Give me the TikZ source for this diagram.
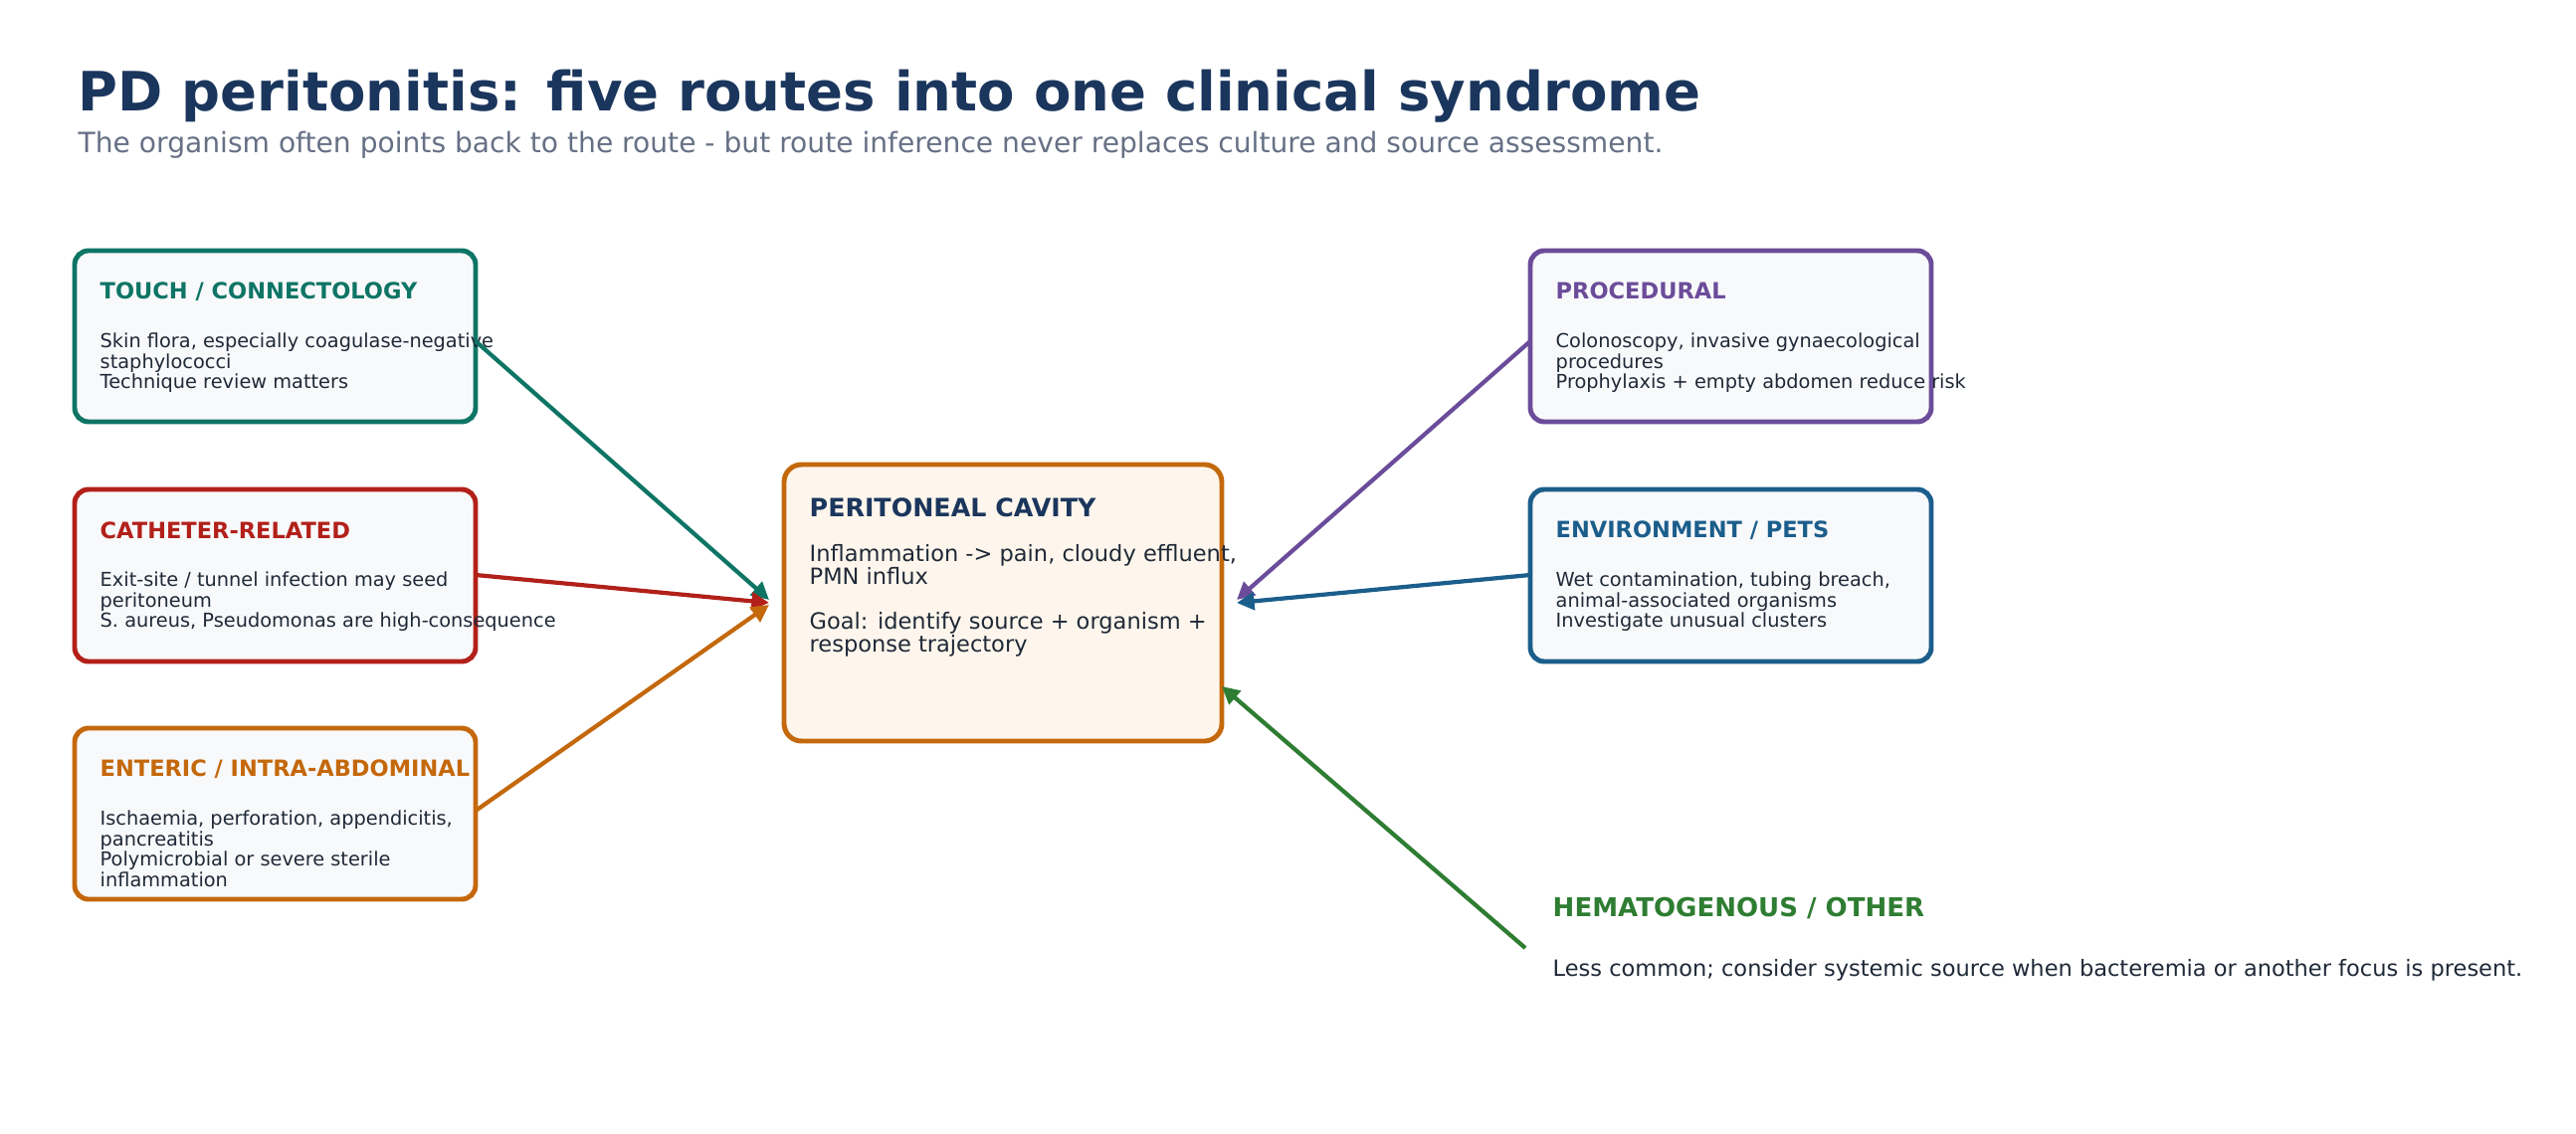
\documentclass[tikz,border=0pt]{standalone}
\usepackage{fontspec}
\setmainfont{DejaVu Sans}
\usetikzlibrary{arrows.meta}
\definecolor{navy}{HTML}{1B365D}
\definecolor{sub}{HTML}{667085}
\definecolor{ink}{HTML}{1F2937}
\definecolor{cteal}{HTML}{0E7565}
\definecolor{cred}{HTML}{B2201A}
\definecolor{corange}{HTML}{C4680C}
\definecolor{cpurple}{HTML}{6B4C9A}
\definecolor{cblue}{HTML}{1B5E8C}
\definecolor{cgreen}{HTML}{2E7D32}
\definecolor{boxfill}{HTML}{F8F9FB}
\definecolor{cfill}{HTML}{FEF6EC}
\begin{document}
\begin{tikzpicture}[x=0.01cm,y=-0.01cm,
  box/.style={draw=#1,line width=1.4pt,rounded corners=4pt,fill=boxfill},
  btitle/.style={anchor=west,text=#1,font=\fontsize{6.4}{7.5}\selectfont\bfseries,inner sep=0},
  bbody/.style={anchor=north west,text=ink,font=\fontsize{5.5}{5.9}\selectfont,align=left,inner sep=0},
  arr/.style={draw=#1,line width=1.2pt,-{Triangle[length=5pt,width=5pt]}}]
\useasboundingbox (0,0) rectangle (2589,1140);
\node[anchor=west,text=navy,font=\fontsize{15.5}{18}\selectfont\bfseries,inner sep=0] (title) at (78,97) {PD peritonitis: five routes into one clinical syndrome};
\node[anchor=west,text=sub,font=\fontsize{8}{9}\selectfont,inner sep=0] (subt) at (78,146) {The organism often points back to the route - but route inference never replaces culture and source assessment.};
% left boxes
\draw[box=cteal] (75,252) rectangle (478,424);
\node[btitle=cteal] (t1) at (100,293) {TOUCH / CONNECTOLOGY};
\node[bbody] (b1) at (100,334) {Skin flora, especially coagulase-negative\\staphylococci\\Technique review matters};
\coordinate (o1) at (478,343);
\draw[box=cred] (75,492) rectangle (478,665);
\node[btitle=cred] (t2) at (100,533) {CATHETER-RELATED};
\node[bbody] (b2) at (100,574) {Exit-site / tunnel infection may seed\\peritoneum\\S. aureus, Pseudomonas are high-consequence};
\coordinate (o2) at (478,578);
\draw[box=corange] (75,732) rectangle (478,904);
\node[btitle=corange] (t3) at (100,773) {ENTERIC / INTRA-ABDOMINAL};
\node[bbody] (b3) at (100,814) {Ischaemia, perforation, appendicitis,\\pancreatitis\\Polymicrobial or severe sterile\\inflammation};
\coordinate (o3) at (478,815);
% right boxes
\draw[box=cpurple] (1538,252) rectangle (1941,424);
\node[btitle=cpurple] (t4) at (1563,292) {PROCEDURAL};
\node[bbody] (b4) at (1563,334) {Colonoscopy, invasive gynaecological\\procedures\\Prophylaxis + empty abdomen reduce risk};
\coordinate (o4) at (1538,343);
\draw[box=cblue] (1538,492) rectangle (1941,665);
\node[btitle=cblue] (t5) at (1563,533) {ENVIRONMENT / PETS};
\node[bbody] (b5) at (1563,574) {Wet contamination, tubing breach,\\animal-associated organisms\\Investigate unusual clusters};
\coordinate (o5) at (1538,578);
% center
\draw[draw=corange,line width=1.4pt,rounded corners=5pt,fill=cfill] (788,467) rectangle (1228,745);
\node[anchor=west,text=navy,font=\fontsize{7.2}{8.5}\selectfont\bfseries,inner sep=0] (ct) at (813,510) {PERITONEAL CAVITY};
\node[anchor=north west,text=ink,font=\fontsize{6.4}{6.4}\selectfont,align=left,inner sep=0] (cb) at (813,547) {Inflammation -> pain, cloudy effluent,\\PMN influx\\[6.5pt]Goal: identify source + organism +\\response trajectory};
\coordinate (cL1) at (773,603);
\coordinate (cL2) at (773,606);
\coordinate (cL3) at (773,608);
\coordinate (cR1) at (1243,603);
\coordinate (cR2) at (1243,606);
\coordinate (cB) at (1228,690);
% hematogenous
\node[anchor=west,text=cgreen,font=\fontsize{7.4}{8.5}\selectfont\bfseries,inner sep=0] (ht) at (1560,913) {HEMATOGENOUS / OTHER};
\node[anchor=west,text=ink,font=\fontsize{6.4}{7.5}\selectfont,inner sep=0] (hb) at (1560,975) {Less common; consider systemic source when bacteremia or another focus is present.};
\coordinate (o6) at (1533,953);
% arrows
\draw[arr=cteal] (o1) -- (cL1);
\draw[arr=cred] (o2) -- (cL2);
\draw[arr=corange] (o3) -- (cL3);
\draw[arr=cpurple] (o4) -- (cR1);
\draw[arr=cblue] (o5) -- (cR2);
\draw[arr=cgreen] (o6) -- (cB);
\end{tikzpicture}
\end{document}
